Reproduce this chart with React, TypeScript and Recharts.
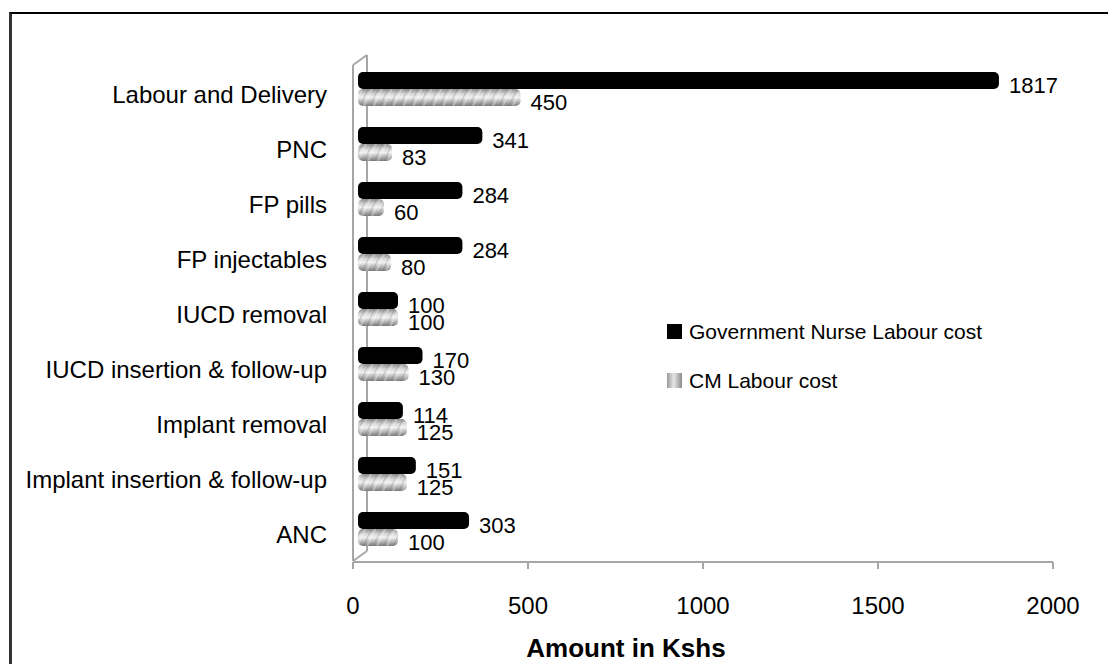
import React from "react";
import { BarChart, Bar, XAxis, YAxis, Legend, LabelList, Customized } from "recharts";

const categories = [
  "Labour and Delivery",
  "PNC",
  "FP pills",
  "FP injectables",
  "IUCD removal",
  "IUCD insertion & follow-up",
  "Implant removal",
  "Implant insertion & follow-up",
  "ANC",
];
const govNurse = [1817, 341, 284, 284, 100, 170, 114, 151, 303];
const cmLabour = [450, 83, 60, 80, 100, 130, 125, 125, 100];
const xTicks = [0, 500, 1000, 1500, 2000];
const seriesNames = ["Government Nurse Labour cost", "CM Labour cost"];

const data = categories.map((c, i) => ({ name: c, gov: govNurse[i], cm: cmLabour[i] }));

const FONT = "'Liberation Sans', Arial, Helvetica, sans-serif";
const W = 1108;
const H = 656;
const M = { top: 53, right: 63, left: 0, bottom: 2 };
const Y_W = 345;
const X_H = 100;
const PX = M.left + Y_W;
const PY = M.top;
const PB = H - M.bottom - X_H;

const BlackBar = (p: any) => {
  const { x, y, width, height } = p;
  if (width == null) return null;
  const w = Math.max(width + 5, 0);
  return <rect x={x + 5} y={y} width={w} height={height} rx={5} ry={5} fill="#000" />;
};

const GrayBar = (p: any) => {
  const { x, y, width, height } = p;
  if (width == null) return null;
  const w = Math.max(width + 5, 0);
  return (
    <g>
      <rect x={x + 5} y={y} width={w} height={height} rx={5} ry={5} fill="url(#cmGrad)" />
      <rect x={x + 5} y={y} width={w} height={height} rx={5} ry={5} fill="url(#cmTex)" />
    </g>
  );
};

const ValueLabel = (p: any) => {
  const { x, y, width, height, value } = p;
  return (
    <text x={x + width + 20} y={y + height / 2 + 12} fontSize={22} fontFamily={FONT} fill="#000" textAnchor="start">
      {value}
    </text>
  );
};

const CatTick = (p: any) => (
  <text x={p.x} y={p.y + 14} textAnchor="end" fontSize={24} fontFamily={FONT} fill="#000">
    {p.payload.value}
  </text>
);

const NumTick = (p: any) => (
  <text x={p.x} y={p.y + 45} textAnchor="middle" fontSize={24} fontFamily={FONT} fill="#000">
    {p.payload.value}
  </text>
);

const TitleLabel = (p: any) => {
  const vb = p.viewBox || {};
  return (
    <text x={vb.x + vb.width * 0.39} y={vb.y + 95} textAnchor="middle" fontSize={26} fontWeight="bold" fontFamily={FONT} fill="#000">
      Amount in Kshs
    </text>
  );
};

const Walls = () => (
  <g stroke="#a6a6a6" strokeWidth={2} fill="none">
    <line x1={PX} y1={PY + 4} x2={PX} y2={PB - 1} />
    <line x1={PX + 14} y1={PY - 6} x2={PX + 14} y2={PB - 11} />
    <line x1={PX} y1={PY + 4} x2={PX + 14} y2={PY - 6} />
    <line x1={PX} y1={PB - 1} x2={PX + 14} y2={PB - 11} />
  </g>
);

const renderLegend = () => {
  const items = [
    { name: seriesNames[0], fill: "#000" },
    { name: seriesNames[1], fill: "linear-gradient(90deg,#9a9a9a,#e6e6e6 45%,#8c8c8c)" },
  ];
  return (
    <div style={{ fontFamily: FONT, fontSize: 21, color: "#000" }}>
      {items.map((it) => (
        <div key={it.name} style={{ height: 49, display: "flex", alignItems: "center" }}>
          <span style={{ display: "inline-block", width: 15, height: 15, background: it.fill, marginRight: 7 }} />
          <span style={{ lineHeight: "21px" }}>{it.name}</span>
        </div>
      ))}
    </div>
  );
};

export default function App() {
  return (
    <div style={{ position: "relative", width: W, height: H, overflow: "hidden", background: "#fff" }}>
      <div
        style={{
          position: "absolute",
          left: 1,
          top: 4,
          width: W + 20,
          height: H + 20,
          borderTop: "2px solid #000",
          borderLeft: "3px solid #333",
          boxSizing: "border-box",
        }}
      />
      <BarChart
        width={W}
        height={H}
        data={data}
        layout="vertical"
        margin={M}
        barSize={17}
        barGap={0}
        style={{ position: "absolute", left: 0, top: 0 }}
      >
        <defs>
          <linearGradient id="cmGrad" x1="0" y1="0" x2="0" y2="1">
            <stop offset="0%" stopColor="#8a8a8a" />
            <stop offset="30%" stopColor="#d9d9d9" />
            <stop offset="50%" stopColor="#f0f0f0" />
            <stop offset="75%" stopColor="#b5b5b5" />
            <stop offset="100%" stopColor="#7a7a7a" />
          </linearGradient>
          <pattern id="cmTex" width="9" height="17" patternUnits="userSpaceOnUse" patternTransform="rotate(25)">
            <line x1="0" y1="0" x2="0" y2="17" stroke="#6f6f6f" strokeWidth="1.5" strokeOpacity="0.45" />
            <line x1="4" y1="0" x2="4" y2="17" stroke="#ffffff" strokeWidth="1.2" strokeOpacity="0.5" />
          </pattern>
        </defs>
        <Customized component={Walls} />
        <XAxis
          type="number"
          domain={[0, 2000]}
          ticks={xTicks}
          height={X_H}
          tickSize={7}
          tickMargin={0}
          axisLine={{ stroke: "#a6a6a6", strokeWidth: 2 }}
          tickLine={{ stroke: "#a6a6a6", strokeWidth: 2 }}
          tick={NumTick}
          label={<TitleLabel />}
        />
        <YAxis
          type="category"
          dataKey="name"
          width={Y_W}
          axisLine={false}
          tickLine={false}
          tickSize={0}
          tickMargin={26}
          padding={{ top: 0, bottom: 6 }}
          interval={0}
          tick={CatTick}
        />
        <Legend
          content={renderLegend}
          layout="vertical"
          align="center"
          verticalAlign="middle"
          wrapperStyle={{ position: "absolute", left: 659, top: 299, width: 360, height: 98 }}
        />
        <Bar dataKey="gov" name={seriesNames[0]} isAnimationActive={false} shape={BlackBar}>
          <LabelList dataKey="gov" content={ValueLabel} />
        </Bar>
        <Bar dataKey="cm" name={seriesNames[1]} isAnimationActive={false} shape={GrayBar}>
          <LabelList dataKey="cm" content={ValueLabel} />
        </Bar>
      </BarChart>
    </div>
  );
}
